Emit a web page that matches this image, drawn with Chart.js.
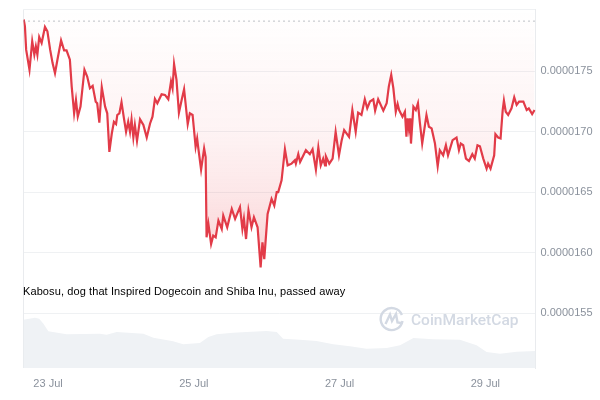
<!DOCTYPE html>
<html>
<head>
<meta charset="utf-8">
<title>Kabosu price chart</title>
<script src="https://cdn.jsdelivr.net/npm/chart.js@4"></script>
<style>
  html, body { margin: 0; padding: 0; background: #fff; }
  #wrap { position: relative; width: 600px; height: 400px; overflow: hidden; }
  #note { position: absolute; left: 23px; top: 285px; font: 11px "Liberation Sans", sans-serif; color: #000; white-space: nowrap; letter-spacing: 0.1px; }
  #brand { position: absolute; left: 411px; top: 311px; font: 500 15.5px Roboto, sans-serif; color: #d3d9e3; white-space: nowrap; }
  #logo { position: absolute; left: 379px; top: 306px; }
</style>
</head>
<body>
<div id="wrap">
  <canvas id="chart" width="600" height="400"></canvas>
  <div id="note">Kabosu, dog that Inspired Dogecoin and Shiba Inu, passed away</div>
  <svg id="logo" width="26" height="26" viewBox="0 0 26 26" fill="none" stroke="#d3d9e3" stroke-width="2.4">
    <path d="M23.5 15a11 11 0 1 1-.6-6"/>
    <path d="M6.5 18 11 8.5 13 15l4-7 1.5 8.5 4 .5"/>
  </svg>
  <div id="brand">CoinMarketCap</div>
</div>
<script>
// hours since 23 Jul 00:00, price in units of 0.0000001
const priceHours = [
  -8.0, -7.6, -7.2, -6.1, -5.2, -4.5, -4.0, -3.5, -2.9, -2.1, -1.0, -0.2, 0.7, 1.5, 2.3, 3.1, 4.3, 5.3, 6.1, 7.2,
  7.8, 8.6, 9.2, 9.8, 10.7, 12.0, 12.9, 13.8, 14.7, 15.7, 16.2, 16.9, 17.7, 18.8, 19.5, 20.2, 21.0, 21.7, 22.4, 22.8,
  23.5, 24.2, 25.0, 25.7, 26.4, 27.0, 27.5, 28.1, 28.6, 29.3, 30.3, 31.4, 32.5, 33.6, 34.4, 35.2, 36.0, 37.4, 38.5, 39.6,
  40.5, 41.0, 41.5, 42.3, 43.1, 44.0, 44.8, 46.0, 46.7, 47.6, 48.6, 49.1, 49.5, 50.4, 51.4, 51.9, 52.2, 52.8, 53.7, 54.4,
  55.2, 56.1, 57.2, 57.7, 59.0, 60.5, 61.6, 63.2, 64.0, 64.5, 65.2, 66.0, 67.0, 67.8, 69.0, 70.0, 70.6, 71.2, 72.3, 73.6,
  74.5, 75.3, 75.8, 76.9, 78.0, 78.9, 80.2, 81.3, 81.6, 82.4, 83.0, 84.9, 86.2, 87.1, 88.2, 89.0, 89.8, 90.6, 91.2, 91.5,
  92.6, 93.7, 94.7, 95.8, 96.7, 97.5, 99.1, 100.2, 101.3, 102.1, 103.2, 104.3, 105.1, 106.0, 107.1, 107.7, 108.7, 110.4, 111.5, 112.2,
  113.0, 113.7, 114.5, 115.1, 115.6, 116.7, 117.5, 118.0, 118.4, 118.8, 119.2, 119.5, 120.3, 121.1, 121.8, 122.4, 123.2, 124.6, 125.4, 126.3,
  127.4, 128.3, 129.0, 130.1, 131.0, 131.7, 133.2, 134.5, 135.3, 135.9, 136.7, 137.6, 138.6, 139.7, 140.5, 141.4, 142.2, 143.3, 144.4, 144.9,
  145.7, 146.9, 147.3, 148.2, 149.0, 149.7, 150.1, 150.7, 151.5, 152.6, 153.5, 154.3, 155.1, 156.5, 157.6, 158.3, 159.4, 160.2
];
const prices = [
  179.28, 178.72, 176.79, 175.13, 177.48, 176.37, 177.06, 176.37, 177.84, 177.34, 178.67, 178.31, 176.79, 175.68, 174.85, 175.96, 177.56, 176.73, 176.73, 175.96,
  173.74, 171.53, 172.63, 171.25, 172.08, 175.13, 174.57, 173.60, 173.80, 172.49, 172.36, 170.75, 173.69, 172.08, 171.53, 168.34, 169.86, 170.83, 170.64, 171.39,
  171.53, 172.44, 171.11, 170.00, 170.83, 170.00, 171.03, 169.53, 170.56, 169.25, 171.03, 170.56, 169.53, 170.69, 171.25, 172.72, 172.36, 173.10, 173.05, 172.69,
  174.16, 173.60, 175.60, 174.29, 171.58, 172.63, 173.52, 170.64, 171.53, 171.39, 168.76, 169.45, 168.62, 166.87, 168.62, 167.92, 161.28, 162.39, 160.73, 161.42,
  161.28, 162.66, 161.97, 163.08, 162.11, 163.63, 162.80, 163.77, 161.97, 162.80, 161.14, 163.49, 162.11, 162.94, 162.11, 158.79, 160.87, 159.48, 163.22, 164.46,
  163.91, 165.02, 165.02, 165.99, 168.56, 167.23, 167.37, 167.65, 167.37, 168.15, 167.51, 168.48, 168.15, 168.56, 166.87, 168.70, 167.23, 167.79, 167.23, 167.98,
  167.37, 167.79, 170.00, 168.06, 169.31, 170.14, 169.59, 171.80, 170.00, 171.58, 171.39, 172.69, 171.94, 172.50, 172.69, 171.75, 172.69, 171.75, 172.36, 173.74,
  174.71, 173.60, 171.66, 172.30, 171.80, 171.25, 171.66, 169.59, 171.11, 170.28, 171.11, 169.03, 172.08, 171.80, 172.36, 170.83, 169.03, 171.39, 170.42, 170.28,
  169.03, 167.15, 168.48, 168.06, 168.89, 168.06, 169.31, 169.53, 168.48, 169.03, 168.89, 167.79, 167.59, 168.15, 167.79, 168.89, 168.81, 167.79, 166.96, 167.37,
  166.96, 168.06, 169.81, 169.53, 169.45, 171.80, 172.58, 171.66, 171.39, 171.94, 172.85, 172.22, 172.49, 172.49, 171.80, 171.94, 171.47, 171.80
];
const highHours = [-8.07, 160.5];
const highPrices = [179.15, 179.15];

const volumeHours = [
  -8.07, -4.3, -2.9, -1.5, 0.1, 6.1, 17.1, 19.3, 22.6, 31.4, 34.7, 41.2, 44.5, 50.0, 52.8, 55.5, 61.0, 65.4,
  72.0, 75.3, 77.4, 82.9, 88.4, 93.9, 99.4, 104.9, 111.5, 115.9, 120.3, 126.8, 135.6, 141.1, 144.4, 148.8, 154.3, 160.5
];
const volumes = [
  48.3, 50.3, 49.3, 44.3, 36.7, 33.7, 34.3, 33.3, 36.0, 34.3, 30.3, 26.7, 23.7, 25.0, 31.0, 33.7, 35.3, 36.0,
  37.0, 36.0, 29.3, 28.3, 27.0, 23.7, 21.7, 19.3, 20.0, 22.7, 30.0, 28.7, 28.3, 22.7, 16.0, 14.3, 16.3, 17.0
];

const xTickHours = [0, 48, 96, 144];
const xTickLabels = ['23 Jul', '25 Jul', '27 Jul', '29 Jul'];
const yTickValues = [155, 160, 165, 170, 175, 180.11];
const yTickLabels = ['0.0000155', '0.0000160', '0.0000165', '0.0000170', '0.0000175', ''];

const toPoints = (xs, ys) => xs.map((x, i) => ({ x: x, y: ys[i] }));

// pink wash above the line, gets stronger towards the low
function fillGradient(context) {
  const area = context.chart.chartArea;
  if (!area) return 'rgba(234,57,67,0.05)';
  const g = context.chart.ctx.createLinearGradient(0, area.top, 0, 268);
  g.addColorStop(0, 'rgba(234,57,67,0)');
  g.addColorStop(0.24, 'rgba(234,57,67,0.03)');
  g.addColorStop(0.47, 'rgba(234,57,67,0.06)');
  g.addColorStop(0.71, 'rgba(234,57,67,0.12)');
  g.addColorStop(1, 'rgba(234,57,67,0.24)');
  return g;
}

const frame = {
  id: 'frame',
  beforeDatasetsDraw(chart) {
    const { ctx, chartArea: a } = chart;
    ctx.save();
    ctx.strokeStyle = '#e9ebee';
    ctx.lineWidth = 1;
    ctx.beginPath();
    ctx.moveTo(a.left, a.bottom);
    ctx.lineTo(a.left, a.top);
    ctx.stroke();
    ctx.restore();
  }
};

new Chart(document.getElementById('chart'), {
  type: 'line',
  plugins: [frame],
  data: {
    datasets: [
      {
        data: toPoints(priceHours, prices),
        yAxisID: 'y',
        borderColor: '#e23b48',
        borderWidth: 2.2,
        pointRadius: 0,
        tension: 0,
        fill: 'end',
        backgroundColor: fillGradient,
        order: 1
      },
      {
        data: toPoints(highHours, highPrices),
        yAxisID: 'y',
        borderColor: '#7c828c',
        borderWidth: 1,
        borderDash: [1, 4],
        pointRadius: 0,
        fill: false,
        order: 0
      },
      {
        data: toPoints(volumeHours, volumes),
        yAxisID: 'yVol',
        borderWidth: 0,
        pointRadius: 0,
        tension: 0,
        fill: 'origin',
        backgroundColor: '#eff2f5',
        order: 3
      }
    ]
  },
  options: {
    responsive: false,
    animation: false,
    layout: { padding: { left: 23.5, top: 9.5, right: 0, bottom: 0 } },
    plugins: { legend: { display: false }, tooltip: { enabled: false } },
    scales: {
      x: {
        type: 'linear',
        min: -8.07,
        max: 160.5,
        grid: { display: false },
        border: { display: false },
        afterBuildTicks: axis => { axis.ticks = xTickHours.map(v => ({ value: v })); },
        afterFit: axis => { axis.height = 32; axis.paddingLeft = 0; axis.paddingRight = 0; },
        ticks: {
          autoSkip: false,
          maxRotation: 0,
          padding: 1,
          color: '#8a919c',
          font: { family: '"Liberation Sans"', size: 11 },
          callback: value => xTickLabels[xTickHours.indexOf(value)]
        }
      },
      y: {
        position: 'right',
        min: 150.48,
        max: 180.11,
        grid: { color: '#eff1f3', lineWidth: 1, drawTicks: false },
        border: { display: true, color: '#e9ebee' },
        afterBuildTicks: axis => { axis.ticks = yTickValues.map(v => ({ value: v })); },
        afterFit: axis => { axis.width = 64.5; axis.paddingTop = 0; axis.paddingBottom = 0; },
        ticks: {
          autoSkip: false,
          padding: 5,
          color: '#8a919c',
          font: { family: '"Liberation Sans"', size: 11 },
          callback: value => yTickLabels[yTickValues.indexOf(value)]
        }
      },
      yVol: {
        display: false,
        min: 0,
        max: 358.5
      }
    }
  }
});
</script>
</body>
</html>
